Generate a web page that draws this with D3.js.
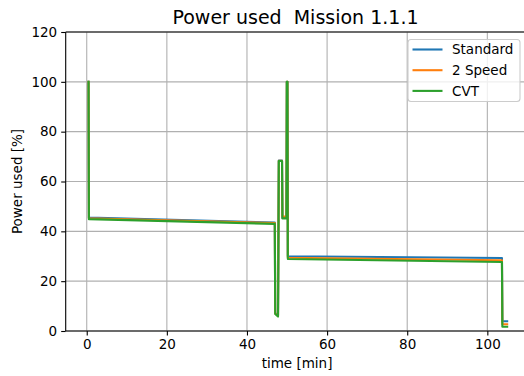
<!DOCTYPE html>
<html>
<head>
<meta charset="utf-8">
<script src="https://cdn.jsdelivr.net/npm/d3@7"></script>
<style>
  html, body { margin: 0; padding: 0; background: #fff; }
  svg { display: block; font-family: "DejaVu Sans", sans-serif; }
</style>
</head>
<body>
<svg id="chart" width="524" height="376"></svg>
<script>
// ---- data ----
const time      = [0.45, 0.55, 46.95, 47.05, 47.75, 47.95, 48.75, 48.85, 49.85, 49.95, 50.1, 50.2, 103.65, 103.75, 104.95];
const standard  = [100, 45.5, 43.5, 7.2, 6.2, 68.4, 68.4, 45.4, 45.4, 100, 100, 30.0, 29.3, 3.9, 3.9];
const twoSpeed  = [100, 45.2, 43.3, 7.0, 6.0, 68.3, 68.3, 45.9, 45.9, 100, 100, 29.4, 28.4, 2.7, 2.7];
const cvt       = [100, 44.9, 43.0, 6.8, 5.8, 68.2, 68.2, 45.2, 45.2, 100, 100, 28.9, 27.7, 1.7, 1.7];
const seriesNames  = ["Standard", "2 Speed", "CVT"];
const seriesColors = ["#1f77b4", "#ff7f0e", "#2ca02c"];
const xTicks = [0, 20, 40, 60, 80, 100];
const yTicks = [0, 20, 40, 60, 80, 100, 120];
const xDomain = [-5.25, 110.25];
const yDomain = [0, 120];
const titleText = "Power used  Mission 1.1.1";
const xLabel = "time [min]";
const yLabel = "Power used [%]";

(function () {
// ---- layout ----
const svg = d3.select("#chart");
const pL = 65.7, pR = 528.4, pT = 32, pB = 331;
const x = d3.scaleLinear().domain(xDomain).range([pL, pR]);
const y = d3.scaleLinear().domain(yDomain).range([pB, pT]);

// grid
const grid = svg.append("g");
grid.selectAll("line.vx").data(xTicks).enter().append("line")
  .attr("x1", d => x(d)).attr("x2", d => x(d))
  .attr("y1", pT).attr("y2", pB)
  .attr("stroke", "#b0b0b0").attr("stroke-width", 1.1);
grid.selectAll("line.hy").data(yTicks).enter().append("line")
  .attr("x1", pL).attr("x2", pR)
  .attr("y1", d => y(d)).attr("y2", d => y(d))
  .attr("stroke", "#b0b0b0").attr("stroke-width", 1.1);

// lines
const allSeries = [standard, twoSpeed, cvt];
const line = d3.line().x((d, i) => x(time[i])).y(d => y(d));
allSeries.forEach((s, k) => {
  svg.append("path").datum(s)
    .attr("d", line)
    .attr("fill", "none")
    .attr("stroke", seriesColors[k])
    .attr("stroke-width", 2.1)
    .attr("stroke-linejoin", "round")
    .attr("stroke-linecap", "square");
});

// axes
const xAxis = d3.axisBottom(x).tickValues(xTicks).tickSize(4.5).tickPadding(4).tickFormat(d3.format("d"));
const yAxis = d3.axisLeft(y).tickValues(yTicks).tickSize(4.5).tickPadding(4).tickFormat(d3.format("d"));
const gx = svg.append("g").attr("transform", `translate(0,${pB})`).call(xAxis);
const gy = svg.append("g").attr("transform", `translate(${pL},0)`).call(yAxis);
[gx, gy].forEach(g => {
  g.select(".domain").remove();
  g.selectAll(".tick line").attr("stroke", "#000").attr("stroke-width", 1.1);
  g.selectAll(".tick text").attr("fill", "#000").attr("font-size", "13.5px")
    .attr("font-family", "DejaVu Sans, sans-serif");
});
// spines
const spine = (x1, y1, x2, y2) => svg.append("line")
  .attr("x1", x1).attr("y1", y1).attr("x2", x2).attr("y2", y2)
  .attr("stroke", "#000").attr("stroke-width", 1.1);
spine(pL, pT, pL, pB);
spine(pL, pB, pR, pB);
spine(pL, pT, pR, pT);
spine(pR, pT, pR, pB);

// title & labels
svg.append("text").attr("x", 295.5).attr("y", 24)
  .attr("text-anchor", "middle").attr("font-size", "19px").attr("fill", "#000")
  .style("white-space", "pre")
  .text(titleText);
svg.append("text").attr("x", (pL + pR) / 2).attr("y", 368)
  .attr("text-anchor", "middle").attr("font-size", "13.5px").attr("fill", "#000")
  .text(xLabel);
svg.append("text").attr("transform", `translate(22,${(pT + pB) / 2}) rotate(-90)`)
  .attr("text-anchor", "middle").attr("font-size", "13.5px").attr("fill", "#000")
  .text(yLabel);

// legend
const lg = svg.append("g");
lg.append("rect").attr("x", 408).attr("y", 39.5).attr("width", 112).attr("height", 62)
  .attr("rx", 3).attr("fill", "#fff").attr("fill-opacity", 0.8)
  .attr("stroke", "#cccccc").attr("stroke-width", 1.1);
seriesNames.forEach((name, i) => {
  const yy = 49.5 + i * 20.7;
  lg.append("line").attr("x1", 412.5).attr("x2", 442.5).attr("y1", yy).attr("y2", yy)
    .attr("stroke", seriesColors[i]).attr("stroke-width", 2.1);
  lg.append("text").attr("x", 452).attr("y", yy).attr("dy", "0.36em")
    .attr("font-size", "13.5px").attr("fill", "#000").text(name);
});
})();
</script>
</body>
</html>
